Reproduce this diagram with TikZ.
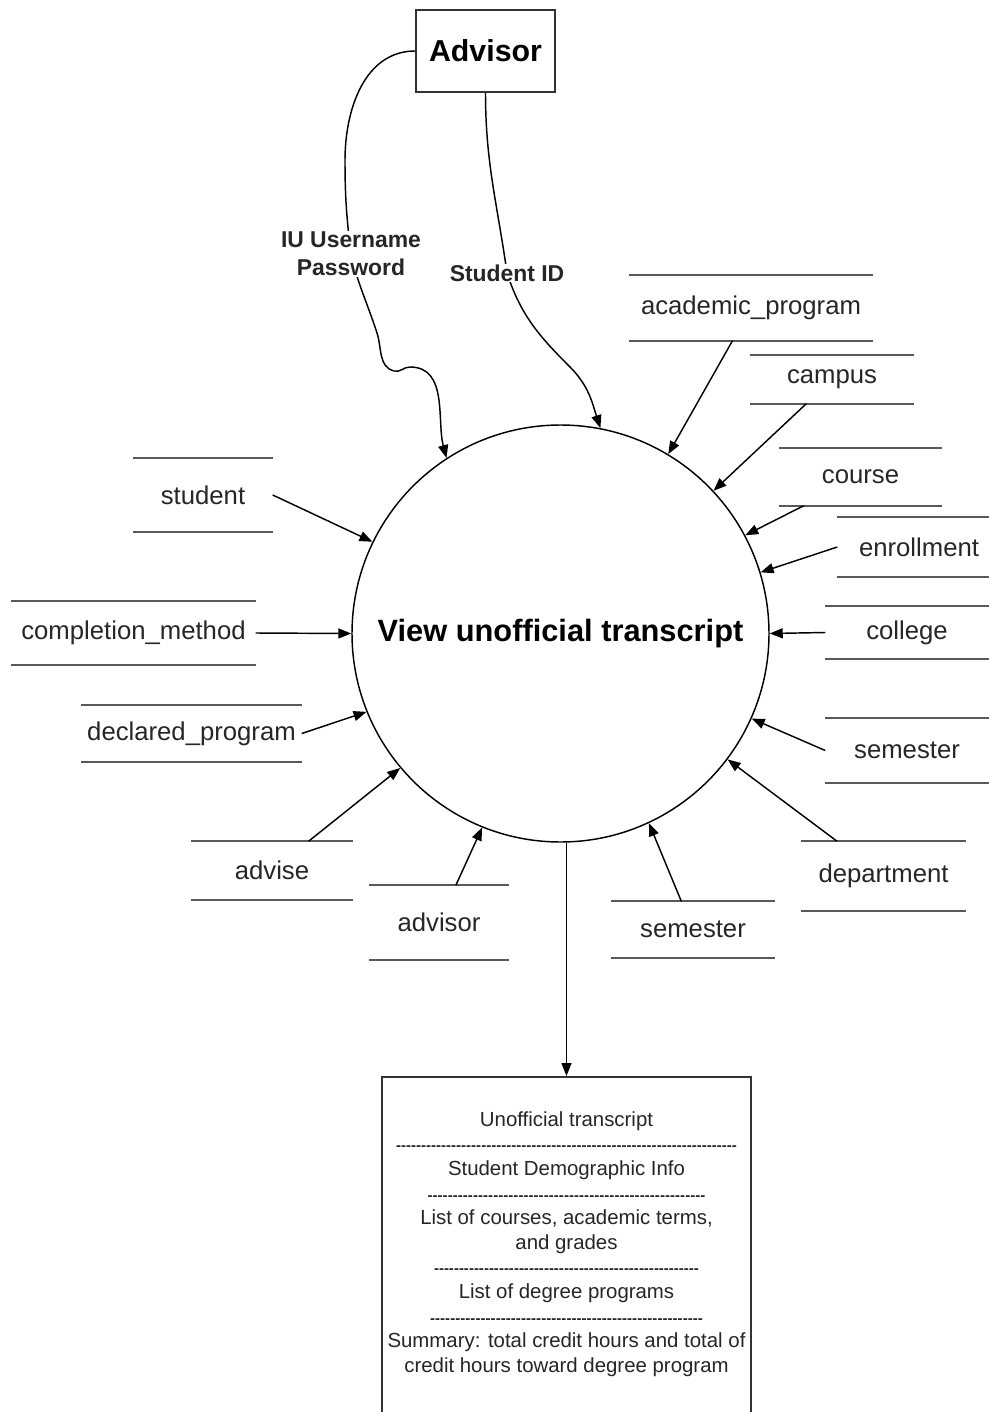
\documentclass[tikz,border=0pt]{standalone}
\usepackage{fontspec}
\setmainfont{Liberation Sans}
\usetikzlibrary{arrows.meta}

% font sizes used in the chart
\newcommand{\storefont}{\fontsize{25.7}{30}\selectfont}
\newcommand{\flowfont}{\bfseries\fontsize{22.9}{28}\selectfont}
\newcommand{\reportfont}{\fontsize{20.4}{24.6}\selectfont}
% a row of hyphens of a given width
\newcommand{\dashrow}[1]{{\bfseries\fontsize{15}{15}\selectfont\makebox[#1pt]{\xleaders\hbox{-}\hfill}}}

\begin{document}
\begin{tikzpicture}[x=1pt,y=1pt,line width=1.45pt,
    >={Triangle[length=13pt,width=10pt]},
    storeline/.style={draw=black!65,line width=2.2pt},
    store/.style n args={2}{minimum width=#1,minimum height=#2,inner sep=0pt,
        text=black!85,font=\storefont,
        append after command={
            (\tikzlastnode.north west) edge[-,storeline] (\tikzlastnode.north east)
            (\tikzlastnode.south west) edge[-,storeline] (\tikzlastnode.south east)}},
    flow/.style={font=\flowfont,text=black!85,align=center,fill=white,inner sep=1pt},
    box/.style={draw=black!80,line width=1.6pt}]

    \path[use as bounding box,fill=white] (0,0) rectangle (988,-1412);

    % process and external entity
    \node[circle, draw, minimum size=417pt, inner sep=0pt,
          font=\bfseries\fontsize{30.8}{36}\selectfont] (proc) at (560.5,-633.5) {View unofficial transcript};
    \node[box, minimum width=139pt, minimum height=82pt,
          font=\bfseries\fontsize{30.3}{36}\selectfont] (advisor) at (485.5,-51) {Advisor};

    % data stores, left
    \node[store={138pt}{72pt}] (student) at (203,-495) {student};
    \node[store={243pt}{62pt}] (completion) at (133.5,-633) {completion\_method};
    \node[store={219pt}{55pt}] (declared) at (191.5,-733.5) {declared\_program};
    \node[store={160pt}{57pt}] (advise) at (272,-870.5) {advise};
    \node[store={138pt}{73pt}] (advisorrec) at (439,-922.5) {advisor};

    % data stores, right
    \node[store={242pt}{64pt}] (academic) at (751,-308) {academic\_program};
    \node[store={162pt}{47pt}] (campus) at (832,-379.5) {campus};
    \node[store={161pt}{56pt}] (course) at (860.5,-477) {course};
    \node[store={162pt}{58pt}] (enrollment) at (919,-547) {enrollment};
    \node[store={162pt}{51pt}] (college) at (907,-632.5) {college};
    \node[store={162pt}{63pt}] (semesterR) at (907,-750.5) {semester};
    \node[store={163pt}{68pt}] (department) at (883.5,-876) {department};
    \node[store={162pt}{55pt}] (semesterB) at (693,-929.5) {semester};

    % output report
    \node[box, minimum width=369pt, minimum height=360pt, anchor=north] (report) at (566.5,-1076) {};
    \node[align=center, font=\reportfont, text=black!85] (reporttext) at (566.5,-1244) {%
        Unofficial transcript\\ \dashrow{341}\\
        Student Demographic Info\\ \dashrow{278}\\
        List of courses, academic terms,\\ and grades\\ \dashrow{265}\\
        List of degree programs\\ \dashrow{273}\\
        Summary: total credit hours and total of\\ credit hours toward degree program};

    % flows from the advisor
    \draw[->] (advisor.west) to[out=180,in=90] (345,-160) to[out=-90,in=97] (351,-254)
        node[flow] (credlabel) {IU Username\\Password}
        to[out=-77,in=108] (377,-333) to[out=-72,in=165] (394,-371)
        to[out=-15,in=180] (410,-367) to[out=0,in=105] (proc.123);
    \draw[->] (advisor.south) to[out=-90,in=98] (507,-273)
        node[flow] (idlabel) {Student ID}
        to[out=-72,in=135] (570,-367) to[out=-45,in=108] (proc.79);

    % reads from the stores
    \path[->]
    (student.east) edge (proc.154)
    (completion.east) edge (proc.180)
    (declared.east) edge (proc.202)
    (advise) edge (proc.220)
    (advisorrec) edge (proc.248)
    (semesterB) edge (proc.295)
    (department) edge (proc.323)
    (semesterR.west) edge (proc.336)
    (college.west) edge (proc.0)
    (enrollment.west) edge (proc.17)
    (course) edge (proc.28)
    (campus) edge (proc.43)
    (academic) edge (proc.59)
    (proc.south -| report.north) edge (report.north);

\end{tikzpicture}
\end{document}
